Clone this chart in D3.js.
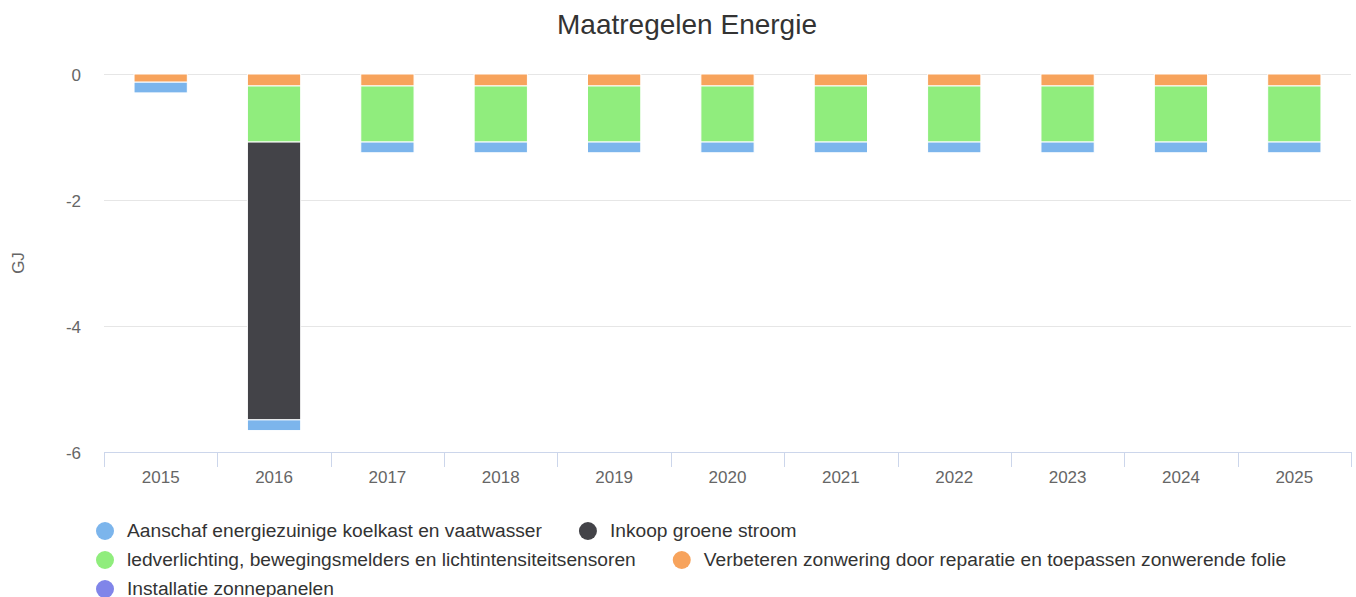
<!DOCTYPE html>
<html>
<head>
<meta charset="utf-8">
<script src="https://cdn.jsdelivr.net/npm/d3@7"></script>
<style>
	body { margin: 0; background: #fff; }
	svg { font-family: "Liberation Sans", Arial, Helvetica, sans-serif; display: block; }
	.y.axis .domain, .y.axis .tick line { display: none; }
	.grid line { stroke: #e6e6e6; }
	.grid .domain { display: none; }
</style>
</head>
<body>
<div id="chart"></div>
<script>
var years = ["2015", "2016", "2017", "2018", "2019", "2020", "2021", "2022", "2023", "2024", "2025"];
var seriesNames = [
	"Aanschaf energiezuinige koelkast en vaatwasser",
	"Inkoop groene stroom",
	"ledverlichting, bewegingsmelders en lichtintensiteitsensoren",
	"Verbeteren zonwering door reparatie en toepassen zonwerende folie",
	"Installatie zonnepanelen"
];
var seriesColors = ["#7cb5ec", "#434348", "#90ed7d", "#f7a35c", "#8085e9"];
var aanschaf = [-0.17, -0.17, -0.17, -0.17, -0.17, -0.17, -0.17, -0.17, -0.17, -0.17, -0.17];
var inkoop = [0, -4.41, 0, 0, 0, 0, 0, 0, 0, 0, 0];
var ledverlichting = [0, -0.89, -0.89, -0.89, -0.89, -0.89, -0.89, -0.89, -0.89, -0.89, -0.89];
var zonwering = [-0.13, -0.19, -0.19, -0.19, -0.19, -0.19, -0.19, -0.19, -0.19, -0.19, -0.19];
var zonnepanelen = [0, 0, 0, 0, 0, 0, 0, 0, 0, 0, 0];
var yTicks = [0, -2, -4, -6];

(function() {
	var W = 1356, H = 597;
	var margin = { top: 74, right: 5, bot: 145, left: 104 };
	var w = W - margin.left - margin.right, h = H - margin.top - margin.bot;
	var valueArrs = [aanschaf, inkoop, ledverlichting, zonwering, zonnepanelen];

	// table rows: one per year, keyed by series index
	var table = years.map(function(y, i) {
		var row = { year: y };
		valueArrs.forEach(function(arr, s) { row[s] = arr[i]; });
		return row;
	});
	// last series sits closest to zero (highcharts reversed stacks)
	var keys = [4, 3, 2, 1, 0];
	var stacked = d3.stack().keys(keys).offset(d3.stackOffsetDiverging)(table);

	var xSc = d3.scaleBand().domain(years).range([0, w]);
	var ySc = d3.scaleLinear().domain([-6, 0]).range([h, 0]);
	var colW = xSc.bandwidth() * 0.47;

	var svg = d3.select("#chart").append("svg").attr("width", W).attr("height", H);

	svg.append("text").attr("x", W / 2 + 9).attr("y", 34)
		.attr("text-anchor", "middle").attr("fill", "#333333")
		.style("font-size", "28px").text("Maatregelen Energie");

	var g = svg.append("g").attr("transform", "translate(" + margin.left + "," + margin.top + ")");

	g.append("g").attr("class", "grid")
		.call(d3.axisLeft(ySc).tickValues(yTicks).tickSize(-w).tickFormat(""));

	var yAx = g.append("g").attr("class", "y axis")
		.call(d3.axisLeft(ySc).tickValues(yTicks).tickSize(0).tickPadding(23)
			.tickFormat(function(d) { return String(d); }));
	yAx.selectAll("text").attr("fill", "#666666").style("font-size", "17px")
		.style("font-family", "inherit").attr("dy", "0.38em");

	svg.append("text")
		.attr("transform", "translate(24," + (margin.top + ySc(-3)) + ") rotate(-90)")
		.attr("text-anchor", "middle").attr("fill", "#666666")
		.style("font-size", "17px").text("GJ");

	// columns
	g.append("g").selectAll("g").data(stacked).enter().append("g")
		.attr("fill", function(d) { return seriesColors[d.key]; })
		.selectAll("rect")
		.data(function(d) { return d.filter(function(p) { return Math.abs(p[1] - p[0]) > 1e-9; }); })
		.enter().append("rect")
		.attr("x", function(d) { return xSc(d.data.year) + (xSc.bandwidth() - colW) / 2; })
		.attr("y", function(d) { return ySc(Math.max(d[0], d[1])); })
		.attr("width", colW)
		.attr("height", function(d) { return Math.abs(ySc(d[0]) - ySc(d[1])); })
		.attr("stroke", "#ffffff").attr("stroke-width", 1);

	// x axis with boundary ticks
	var xAx = g.append("g").attr("class", "x axis").attr("transform", "translate(0," + h + ")");
	xAx.append("line").attr("x1", 0).attr("x2", w).attr("y1", 0.5).attr("y2", 0.5)
		.attr("stroke", "#ccd6eb");
	var bounds = years.map(function(y) { return xSc(y); }).concat([w]);
	xAx.selectAll(".bt").data(bounds).enter().append("line").attr("class", "bt")
		.attr("x1", function(d) { return Math.round(d) + 0.5; })
		.attr("x2", function(d) { return Math.round(d) + 0.5; })
		.attr("y1", 0).attr("y2", 15).attr("stroke", "#ccd6eb");
	xAx.selectAll(".lb").data(years).enter().append("text").attr("class", "lb")
		.attr("x", function(d) { return xSc(d) + xSc.bandwidth() / 2; })
		.attr("y", 31).attr("text-anchor", "middle").attr("fill", "#666666")
		.style("font-size", "17px").text(function(d) { return d; });

	// legend: horizontal flow, wrapped
	var legend = svg.append("g").attr("class", "legend");
	var maxRow = 1200, itemGap = 46, symGap = 22, rowH = 29;
	var items = legend.selectAll("g").data(seriesNames).enter().append("g");
	items.append("circle").attr("r", 9).attr("cy", -6)
		.attr("fill", function(d, i) { return seriesColors[i]; });
	items.append("text").attr("x", symGap).attr("fill", "#333333")
		.style("font-size", "19.2px").text(function(d) { return d; });

	var cx = 0, row = 0, pos = [];
	items.each(function(d, i) {
		var tw = this.querySelector("text").getComputedTextLength();
		var iw = symGap + tw;
		if (cx > 0 && cx + iw > maxRow) { row++; cx = 0; }
		pos.push([cx, row]);
		cx += iw + itemGap;
	});
	var left = 105;
	items.attr("transform", function(d, i) {
		return "translate(" + (left + pos[i][0]) + "," + (537 + pos[i][1] * rowH) + ")";
	});
})();
</script>
</body>
</html>
